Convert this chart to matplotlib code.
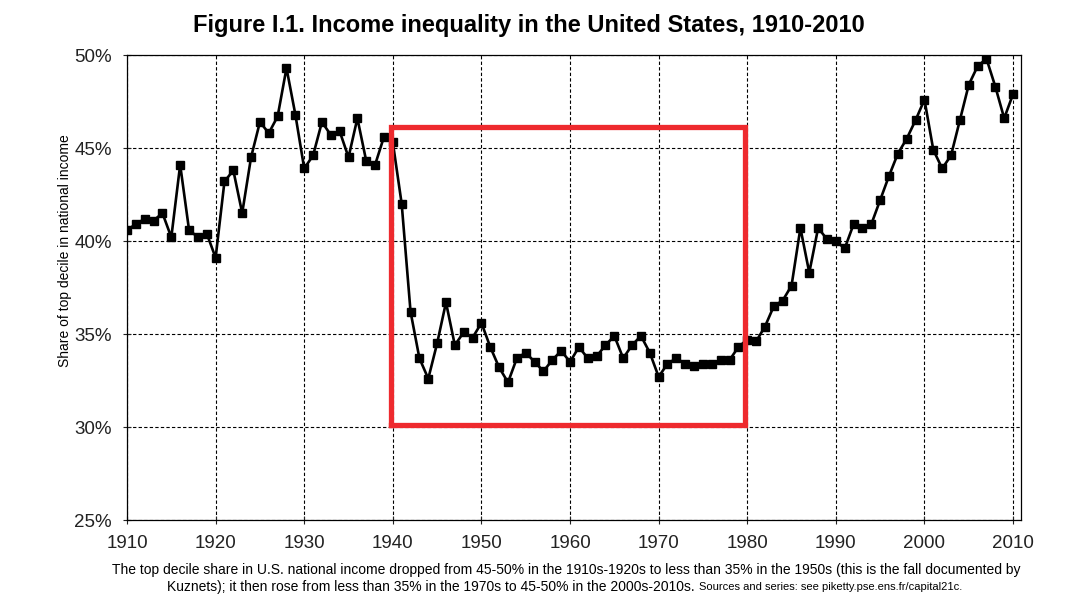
import matplotlib
matplotlib.use("Agg")
from matplotlib import pyplot as plt
from matplotlib.ticker import FuncFormatter

plt.rcParams['font.family'] = ['Liberation Sans', 'DejaVu Sans']

years = list(range(1910, 2011))
top_decile = [
    40.6, 40.9, 41.2, 41.1, 41.5, 40.2, 44.1, 40.6, 40.2, 40.4,  # 1910s
    39.1, 43.2, 43.8, 41.5, 44.5, 46.4, 45.8, 46.7, 49.3, 46.8,  # 1920s
    43.9, 44.6, 46.4, 45.7, 45.9, 44.5, 46.6, 44.3, 44.1, 45.6,  # 1930s
    45.3, 42.0, 36.2, 33.7, 32.6, 34.5, 36.7, 34.4, 35.1, 34.8,  # 1940s
    35.6, 34.3, 33.2, 32.4, 33.7, 34.0, 33.5, 33.0, 33.6, 34.1,  # 1950s
    33.5, 34.3, 33.7, 33.8, 34.4, 34.9, 33.7, 34.4, 34.9, 34.0,  # 1960s
    32.7, 33.4, 33.7, 33.4, 33.3, 33.4, 33.4, 33.6, 33.6, 34.3,  # 1970s
    34.7, 34.6, 35.4, 36.5, 36.8, 37.6, 40.7, 38.3, 40.7, 40.1,  # 1980s
    40.0, 39.6, 40.9, 40.7, 40.9, 42.2, 43.5, 44.7, 45.5, 46.5,  # 1990s
    47.6, 44.9, 43.9, 44.6, 46.5, 48.4, 49.4, 49.8, 48.3, 46.6,  # 2000s
    47.9,
]
x_ticks = list(range(1910, 2011, 10))
y_ticks = [25, 30, 35, 40, 45, 50]
box_years = (1939.8, 1979.8)
box_share = (30.1, 46.15)

fig = plt.figure(figsize=(10.8, 5.98), dpi=100)
ax = fig.add_axes([0.1176, 0.1304, 0.8278, 0.7776])

ax.plot(years, top_decile, color='black', linewidth=1.9, marker='s',
        markersize=6.3, zorder=3)

# highlight box around the 1940-1980 low-inequality period
ax.plot([box_years[0], box_years[1], box_years[1], box_years[0], box_years[0]],
        [box_share[0], box_share[0], box_share[1], box_share[1], box_share[0]],
        color='#ee2a2e', linewidth=3.8, zorder=4, solid_joinstyle='miter')

ax.set_xlim(1910, 2010.9)
ax.set_ylim(25, 50)
ax.set_xticks(x_ticks)
ax.set_yticks(y_ticks)
ax.yaxis.set_major_formatter(FuncFormatter(lambda v, p: '%d%%' % v))
ax.grid(True, color='black', linestyle=(0, (3, 2)), linewidth=0.8)
ax.tick_params(direction='inout', length=6, width=0.8, labelsize=13.5,
               colors='#222222')
ax.tick_params(axis='x', pad=8)
ax.tick_params(axis='y', pad=8)
for s in ax.spines.values():
    s.set_linewidth(0.9)

ax.set_ylabel('Share of top decile in national income', fontsize=10)
ax.yaxis.set_label_coords(-0.062, 0.58)

fig.text(0.490, 0.958, 'Figure I.1. Income inequality in the United States, 1910-2010',
         ha='center', va='center', fontsize=17, fontweight='bold')

fig.text(0.524, 0.047,
         'The top decile share in U.S. national income dropped from 45-50% in the 1910s-1920s '
         'to less than 35% in the 1950s (this is the fall documented by',
         ha='center', va='center', fontsize=10)
fig.text(0.643, 0.018,
         'Kuznets); it then rose from less than 35% in the 1970s to 45-50% in the 2000s-2010s.',
         ha='right', va='center', fontsize=10)
fig.text(0.647, 0.018, 'Sources and series: see piketty.pse.ens.fr/capital21c.',
         ha='left', va='center', fontsize=8)

fig.savefig('out.png', dpi=100)
